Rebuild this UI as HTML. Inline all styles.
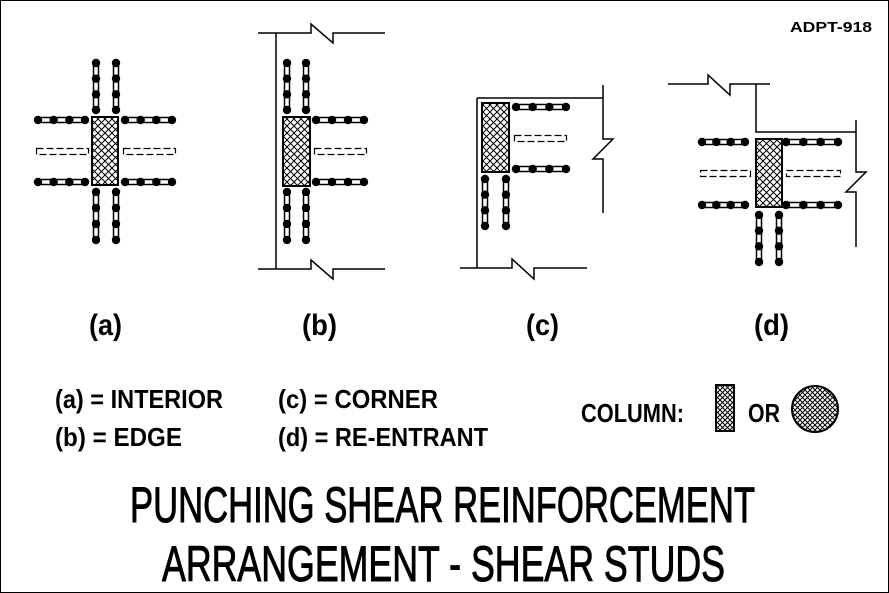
<!DOCTYPE html>
<html><head><meta charset="utf-8"><style>
html,body{margin:0;padding:0;background:#fff}
svg{display:block}
text{font-family:"Liberation Sans",sans-serif;fill:#000}
</style></head><body>
<svg id="s" width="889" height="593" viewBox="0 0 889 593" xmlns="http://www.w3.org/2000/svg">
<defs>
<pattern id="x" width="7" height="7" patternUnits="userSpaceOnUse">
<path d="M0 0L7 7M7 0L0 7" stroke="#000" stroke-width="1"/>
</pattern>
<pattern id="x2" width="5" height="5" patternUnits="userSpaceOnUse">
<path d="M0 0L5 5M5 0L0 5" stroke="#000" stroke-width="1"/>
</pattern>
</defs>
<rect x="0.5" y="0.5" width="888" height="592" fill="#fff" stroke="#000" stroke-width="1"/>
<g id="g" stroke="#000" fill="none" stroke-width="1.5"></g>
<text x="790" y="32" font-size="15" font-weight="bold" textLength="82" lengthAdjust="spacingAndGlyphs">ADPT-918</text>
<g font-weight="bold">
<text x="89" y="335" font-size="30" textLength="33" lengthAdjust="spacingAndGlyphs">(a)</text>
<text x="302" y="335" font-size="30" textLength="35" lengthAdjust="spacingAndGlyphs">(b)</text>
<text x="526" y="335" font-size="30" textLength="33" lengthAdjust="spacingAndGlyphs">(c)</text>
<text x="754" y="335" font-size="30" textLength="35" lengthAdjust="spacingAndGlyphs">(d)</text>
<text x="55" y="408" font-size="26" textLength="168" lengthAdjust="spacingAndGlyphs">(a) = INTERIOR</text>
<text x="55" y="446" font-size="26" textLength="127" lengthAdjust="spacingAndGlyphs">(b) = EDGE</text>
<text x="278" y="408" font-size="26" textLength="160" lengthAdjust="spacingAndGlyphs">(c) = CORNER</text>
<text x="278" y="446" font-size="26" textLength="210" lengthAdjust="spacingAndGlyphs">(d) = RE-ENTRANT</text>
<text x="581" y="422" font-size="26" textLength="103" lengthAdjust="spacingAndGlyphs">COLUMN:</text>
<text x="748" y="422" font-size="26" textLength="32" lengthAdjust="spacingAndGlyphs">OR</text>
</g>
<rect x="716" y="385" width="18" height="46" fill="url(#x2)" stroke="#000" stroke-width="2"/>
<circle cx="815" cy="409" r="23" fill="url(#x2)" stroke="#000" stroke-width="2"/>
<text x="130" y="522" font-size="50" textLength="625" lengthAdjust="spacingAndGlyphs" stroke="#000" stroke-width="1">PUNCHING SHEAR REINFORCEMENT</text>
<text x="162" y="581" font-size="50" textLength="563" lengthAdjust="spacingAndGlyphs" stroke="#000" stroke-width="1">ARRANGEMENT - SHEAR STUDS</text>
</svg>
<script>
const g=document.getElementById('g');const NS='http://www.w3.org/2000/svg';
function el(t,a){const e=document.createElementNS(NS,t);for(const k in a)e.setAttribute(k,a[k]);g.appendChild(e);return e;}
function hr(x1,x2,y){el('rect',{x:x1,y:y-2.5,width:x2-x1,height:5,fill:'#fff','stroke-width':1.5});
 for(let i=0;i<4;i++){el('circle',{cx:x1+(x2-x1)*i/3,cy:y,r:4.2,fill:'#000',stroke:'none'});}}
function vr(x,y1,y2){el('rect',{x:x-2.5,y:y1,width:5,height:y2-y1,fill:'#fff','stroke-width':1.5});
 for(let i=0;i<4;i++){el('circle',{cx:x,cy:y1+(y2-y1)*i/3,r:4.2,fill:'#000',stroke:'none'});}}
function dr(x1,x2,y){el('rect',{x:x1+0.5,y:y-2.5,width:x2-x1,height:6,fill:'#fff','stroke-width':1.2,'stroke-dasharray':'7 3'});}
function col(x,y,w,h){el('rect',{x:x,y:y,width:w,height:h,fill:'url(#x)','stroke-width':2});}
function ln(d){el('path',{d:d,'stroke-width':1.5});}
// (a)
col(92,117,26,68);
hr(38,85,120);hr(125,172,120);hr(38,85,182);hr(125,172,182);
vr(96,63,110);vr(116,63,110);vr(96,192,240);vr(116,192,240);
dr(36,88,151);dr(123,175,151);
// (b)
ln('M258 33H311V24L333 43V33H385');ln('M258 269H311V260L333 279V269H385');ln('M276 33V269');
col(283,117,27,69);
hr(316,364,120);hr(316,364,182);dr(314,366,151);
vr(287,63,110);vr(306,63,110);vr(287,192,240);vr(306,192,240);
// (c)
ln('M477 98V268');ln('M460 268H512V259L534 279V268H587');ln('M477 98H603');ln('M603 85V139H613L593 159H603V213');
col(482,103,27,69);
hr(516,566,107);hr(516,566,169);dr(514,566,138);
vr(485,179,226);vr(506,179,226);
// (d)
ln('M668 84H708V75L730 95V84H770');ln('M756 84V132H856');ln('M856 120V172H866L846 192H856V247');
col(756,139,26,68);
hr(702,745,142);hr(786,838,142);hr(702,745,205);hr(786,838,205);
dr(700,750,173);dr(786,840,173);
vr(759,215,262);vr(779,215,262);
</script>
</body></html>
